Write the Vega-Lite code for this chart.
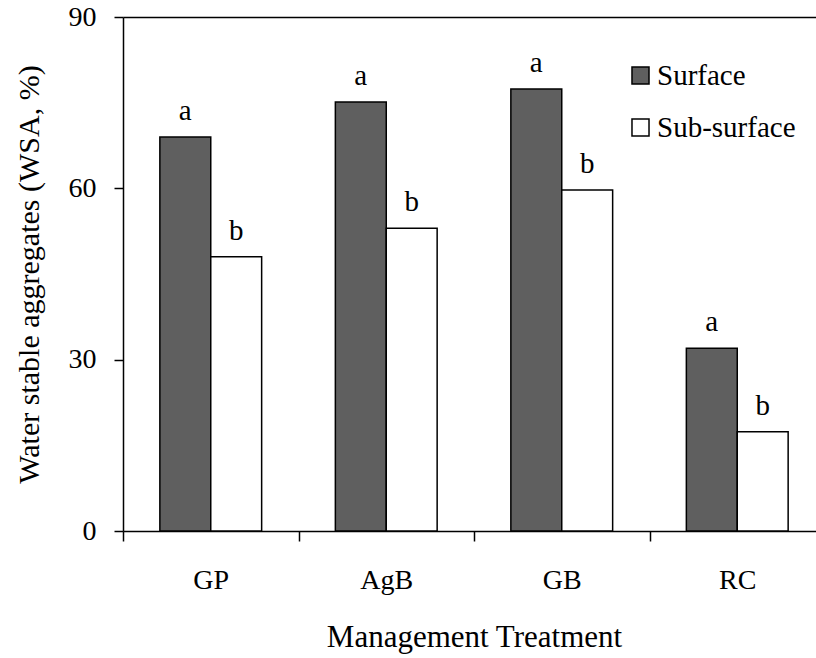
{
  "$schema": "https://vega.github.io/schema/vega-lite/v6.json",
  "autosize": "none",
  "padding": {"left": 123, "top": 17, "right": 0, "bottom": 127},
  "width": 702,
  "height": 514,
  "config": {
    "font": "Liberation Serif",
    "view": {"stroke": null},
    "axis": {"labelFont": "Liberation Serif", "titleFont": "Liberation Serif", "labelColor": "black", "titleColor": "black", "domainColor": "black", "tickColor": "black", "labelFontSize": 28, "titleFontSize": 30, "titleFontWeight": "normal", "grid": false, "domainWidth": 1.5, "tickWidth": 1.5},
    "legend": {"labelFont": "Liberation Serif", "labelFontSize": 29, "labelColor": "black"}
  },
  "data": {"values": [
    {"treatment": "GP", "depth": "Surface", "wsa": 69.0, "letter": "a"},
    {"treatment": "GP", "depth": "Sub-surface", "wsa": 48.0, "letter": "b"},
    {"treatment": "AgB", "depth": "Surface", "wsa": 75.1, "letter": "a"},
    {"treatment": "AgB", "depth": "Sub-surface", "wsa": 53.0, "letter": "b"},
    {"treatment": "GB", "depth": "Surface", "wsa": 77.4, "letter": "a"},
    {"treatment": "GB", "depth": "Sub-surface", "wsa": 59.7, "letter": "b"},
    {"treatment": "RC", "depth": "Surface", "wsa": 32.0, "letter": "a"},
    {"treatment": "RC", "depth": "Sub-surface", "wsa": 17.4, "letter": "b"}
  ]},
  "encoding": {
    "x": {"field": "treatment", "type": "nominal", "sort": ["GP", "AgB", "GB", "RC"],
      "scale": {"paddingInner": 0.42, "paddingOuter": 0.21},
      "axis": {"title": "Management Treatment", "titleFontSize": 31, "labelAngle": 0, "tickOffset": -87.75, "labelOffset": 87.75, "tickSize": 10, "labelPadding": 25, "titlePadding": 28}},
    "xOffset": {"field": "depth", "type": "nominal", "sort": ["Surface", "Sub-surface"], "scale": {"padding": 0}}
  },
  "layer": [
    {
      "mark": {"type": "bar", "stroke": "black", "strokeWidth": 1.5},
      "encoding": {
        "y": {"field": "wsa", "type": "quantitative", "scale": {"domain": [0, 90]},
          "axis": {"title": "Water stable aggregates (WSA, %)", "values": [0, 30, 60, 90], "tickSize": 9, "labelPadding": 18, "titlePadding": 24,
            "grid": true, "gridColor": "black", "gridWidth": 1.5, "gridOpacity": {"condition": {"test": "datum.value == 90", "value": 1}, "value": 0}}},
        "fill": {"field": "depth", "type": "nominal", "sort": ["Surface", "Sub-surface"],
          "scale": {"domain": ["Surface", "Sub-surface"], "range": ["#5f5f5f", "#ffffff"]},
          "legend": {"title": null, "orient": "none", "legendX": 503, "legendY": 44, "symbolType": "square", "symbolSize": 290, "symbolStrokeColor": "black", "symbolStrokeWidth": 1.5, "rowPadding": 22, "labelOffset": 2}}
      }
    },
    {
      "mark": {"type": "text", "baseline": "alphabetic", "dy": -17, "fontSize": 29, "color": "black", "font": "Liberation Serif"},
      "encoding": {
        "y": {"field": "wsa", "type": "quantitative"},
        "text": {"field": "letter"}
      }
    }
  ]
}
